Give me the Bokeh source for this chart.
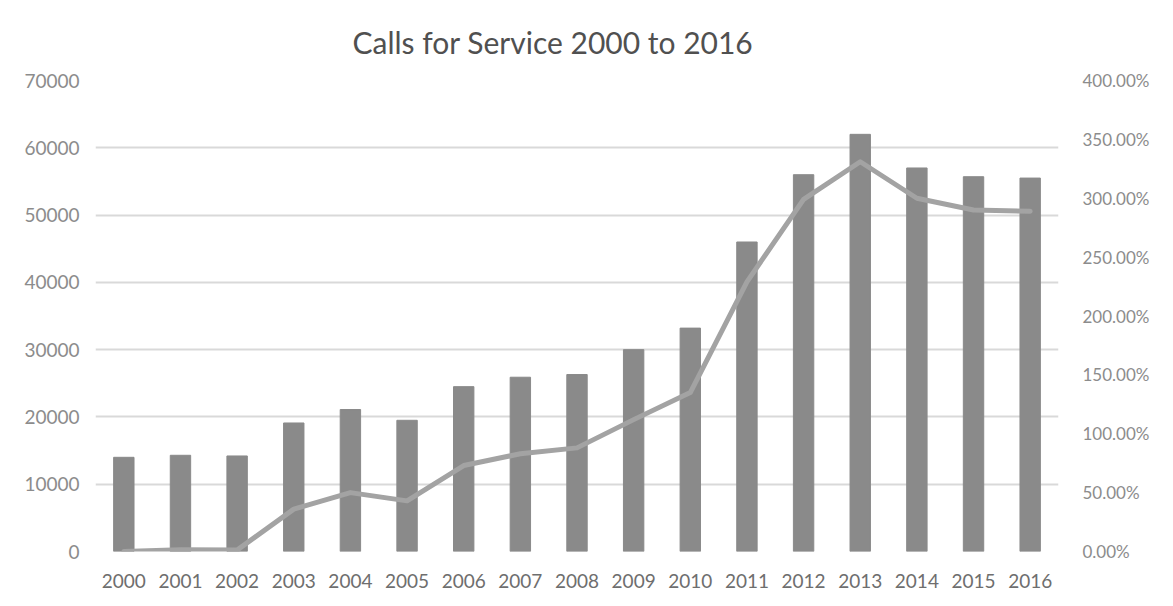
from bokeh.plotting import figure
from bokeh.models import (FactorRange, Range1d, LinearAxis, FixedTicker,
                          PrintfTickFormatter, ColumnDataSource)
from bokeh.embed import file_html
from bokeh.resources import INLINE

years = [str(y) for y in range(2000, 2017)]
calls = [14000, 14300, 14200, 19100, 21100, 19500, 24500, 25900, 26300,
         30000, 33200, 46000, 56000, 62000, 57000, 55700, 55500]
pct_increase = [0, 1.5, 1.2, 36, 50, 43, 73, 83, 88, 112, 135, 229, 299,
                331, 300, 290, 289]
left_ticks = [0, 10000, 20000, 30000, 40000, 50000, 60000, 70000]
right_ticks = [0, 50, 100, 150, 200, 250, 300, 350, 400]
title_text = "Calls for Service 2000 to 2016"

FONT = "Lato"
src = ColumnDataSource(dict(year=years, calls=calls, pct=pct_increase))

p = figure(width=1157, height=598, output_backend="svg", toolbar_location=None,
           x_range=FactorRange(*years, range_padding=0.0),
           y_range=Range1d(0, 70000),
           min_border_left=95, min_border_right=99, min_border_top=80,
           min_border_bottom=47)
p.extra_y_ranges = {"pct": Range1d(0, 400)}

p.vbar(x="year", top="calls", width=0.36, source=src, color="#8a8a8a")
p.line(x="year", y="pct", source=src, y_range_name="pct", line_color="#a3a3a3",
       line_width=5, line_join="round", line_cap="round")

p.outline_line_color = None
p.background_fill_color = "white"
p.xgrid.grid_line_color = None
p.ygrid.grid_line_color = "#d9d9d9"
p.ygrid.grid_line_width = 2

p.yaxis.ticker = FixedTicker(ticks=left_ticks)
p.yaxis.major_label_text_font = FONT
p.yaxis.major_label_text_font_size = "19px"
p.yaxis.major_label_text_color = "#8c8c8c"
p.yaxis.axis_line_color = None
p.yaxis.major_tick_line_color = None
p.yaxis.minor_tick_line_color = None
p.yaxis.major_label_standoff = 10

p.xaxis.major_label_text_font = FONT
p.xaxis.major_label_text_font_size = "19px"
p.xaxis.major_label_text_color = "#6e6e6e"
p.xaxis.axis_line_color = None
p.xaxis.major_tick_line_color = None
p.xaxis.major_label_standoff = 16

ra = LinearAxis(y_range_name="pct", ticker=FixedTicker(ticks=right_ticks),
                formatter=PrintfTickFormatter(format="%.2f%%"))
ra.major_label_text_font = FONT
ra.major_label_text_font_size = "17px"
ra.major_label_text_color = "#8c8c8c"
ra.axis_line_color = None
ra.major_tick_line_color = None
ra.minor_tick_line_color = None
ra.major_label_standoff = 18
p.add_layout(ra, "right")

p.title.text = title_text
p.title.align = "left"
p.title.text_font = FONT
p.title.text_font_size = "30px"
p.title.text_font_style = "normal"
p.title.text_color = "#505050"
p.title.text_line_height = 1.0
p.title.offset = 257
p.title.standoff = 42

open("out.html", "w").write(file_html(p, INLINE))
